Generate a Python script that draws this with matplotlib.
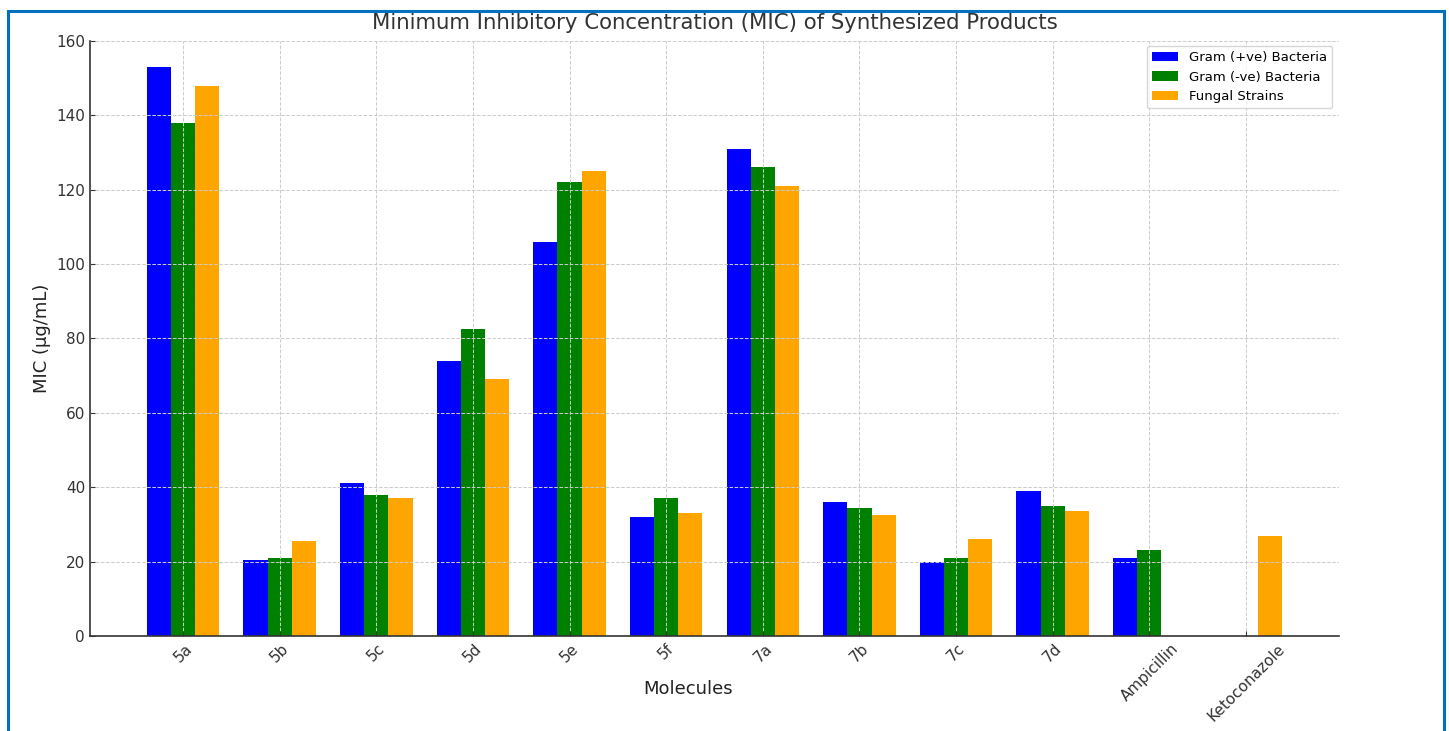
import numpy as np
import matplotlib
matplotlib.use("Agg")
import matplotlib.pyplot as plt
from matplotlib.patches import Rectangle

# MIC values (ug/mL)
molecules = ['5a', '5b', '5c', '5d', '5e', '5f', '7a', '7b', '7c', '7d',
             'Ampicillin', 'Ketoconazole']
gram_pos = [153, 20.5, 41, 74, 106, 32, 131, 36, 20, 39, 21, 0]
gram_neg = [138, 21, 38, 82.5, 122, 37, 126, 34.5, 21, 35, 23, 0]
fungal = [148, 25.5, 37, 69, 125, 33, 121, 32.5, 26, 33.5, 0, 27]

series_names = ['Gram (+ve) Bacteria', 'Gram (-ve) Bacteria', 'Fungal Strains']
series_colors = ['blue', 'green', 'orange']

x = np.arange(len(molecules))
width = 0.25

fig = plt.figure(figsize=(14.49, 7.31), dpi=100)
ax = fig.add_axes([0.0621, 0.130, 0.862, 0.814])

for i, (vals, name, col) in enumerate(zip([gram_pos, gram_neg, fungal], series_names, series_colors)):
    ax.bar(x + (i - 1) * width, vals, width, label=name, color=col)

ax.set_ylim(0, 160)
ax.set_xticks(x)
ax.set_xticklabels(molecules, rotation=45, ha='center', fontsize=11, color='#333333')
ax.tick_params(axis='y', labelsize=11, labelcolor='#333333')
ax.tick_params(direction='in', color='#333333')
ax.set_xlabel('Molecules', fontsize=13, color='#222222')
ax.xaxis.set_label_coords(0.479, -0.074)
ax.set_ylabel('MIC (µg/mL)', fontsize=13, color='#222222')
ax.set_title('Minimum Inhibitory Concentration (MIC) of Synthesized Products',
             fontsize=15.3, color='#333333', pad=8.5)

ax.grid(True, linestyle='--', color='#cccccc', linewidth=0.7)
ax.set_axisbelow(False)
for s in ['top', 'right']:
    ax.spines[s].set_visible(False)
for s in ['left', 'bottom']:
    ax.spines[s].set_color('#333333')
    ax.spines[s].set_linewidth(1.2)

ax.legend(loc='upper right', fontsize=9.5, framealpha=0.8, edgecolor='#cccccc',
          bbox_to_anchor=(1.0, 1.003))

# blue screenshot frame
fig.patches.append(Rectangle((8 / 1449, -0.05), 1436 / 1449, 1.05 - 10.5 / 731,
                             transform=fig.transFigure, fill=False,
                             edgecolor='#0070C0', linewidth=2.2))

fig.savefig('out.png', dpi=100)
